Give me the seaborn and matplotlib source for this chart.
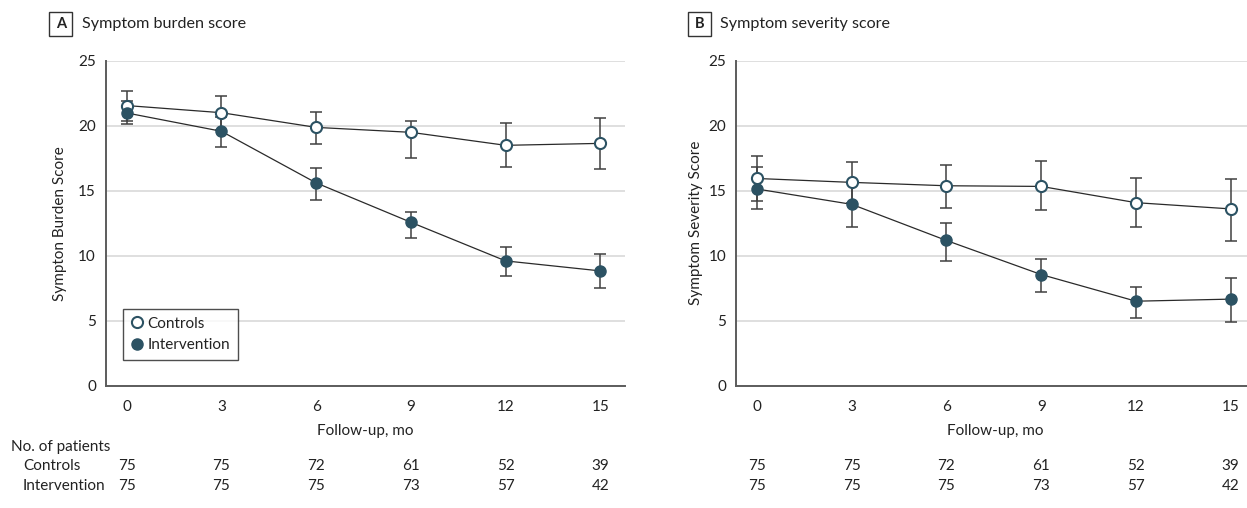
import matplotlib
matplotlib.use("Agg")
import matplotlib.pyplot as plt
import seaborn as sns
import numpy as np
from matplotlib.patches import Rectangle
from matplotlib.lines import Line2D
from matplotlib.transforms import blended_transform_factory

# ---------------- data ----------------
months = [0, 3, 6, 9, 12, 15]

burden_ctrl = [21.55, 21.0, 19.87, 19.49, 18.49, 18.64]
burden_ctrl_lo = [20.4, 19.7, 18.62, 17.5, 16.8, 16.67]
burden_ctrl_hi = [22.7, 22.3, 21.08, 20.4, 20.23, 20.57]
burden_int = [20.98, 19.57, 15.6, 12.57, 9.6, 8.83]
burden_int_lo = [20.13, 18.4, 14.28, 11.38, 8.44, 7.54]
burden_int_hi = [21.9, 20.7, 16.77, 13.36, 10.65, 10.1]

sev_ctrl = [15.94, 15.64, 15.38, 15.33, 14.08, 13.6]
sev_ctrl_lo = [14.24, 14.06, 13.65, 13.55, 12.19, 11.15]
sev_ctrl_hi = [17.68, 17.22, 16.96, 17.27, 15.97, 15.87]
sev_int = [15.13, 13.95, 11.17, 8.55, 6.5, 6.66]
sev_int_lo = [13.57, 12.19, 9.62, 7.22, 5.18, 4.9]
sev_int_hi = [16.79, 15.7, 12.53, 9.74, 7.63, 8.32]

n_ctrl = [75, 75, 72, 61, 52, 39]
n_int = [75, 75, 75, 73, 57, 42]

panel_letters = ["A", "B"]
panel_titles = ["Symptom burden score", "Symptom severity score"]
y_labels = ["Sympton Burden Score", "Symptom Severity Score"]
x_label = "Follow-up, mo"
group_names = ["Controls", "Intervention"]
y_ticks = [0, 5, 10, 15, 20, 25]

# ---------------- style ----------------
sns.set_style("white")
plt.rcParams["font.family"] = ["Lato", "DejaVu Sans"]

TEAL = "#2c5263"
LINE = "#2a2a2a"
ERR = "#404040"
SPINE = "#5c5c5c"
TXT = "#222222"
FS = 11

W, H = 1247, 508
fig = plt.figure(figsize=(W / 100, H / 100), dpi=100)

ax_left_px = [105.7, 736.0]
ax_w_px = 625.0 - 105.7
ax_top_px, ax_bot_px = 60.7, 385.7

def fx(px):
    return px / W

def fy(py):
    return 1 - py / H

datasets = [
    (burden_ctrl, burden_ctrl_lo, burden_ctrl_hi, burden_int, burden_int_lo, burden_int_hi),
    (sev_ctrl, sev_ctrl_lo, sev_ctrl_hi, sev_int, sev_int_lo, sev_int_hi),
]

box_px = [(49.3, 72.3), (688.0, 711.0)]
title_x_px = [81.7, 720.0]
ylabel_pad = [8, 4]

for i in range(2):
    ax = fig.add_axes([fx(ax_left_px[i]), fy(ax_bot_px), fx(ax_w_px), (ax_bot_px - ax_top_px) / H])
    c, clo, chi, it, ilo, ihi = [np.array(a) for a in datasets[i]]

    # error bars
    ax.errorbar(months, c, yerr=[c - clo, chi - c], fmt="none", ecolor=ERR,
                elinewidth=1.1, capsize=4.4, capthick=1.1, zorder=2)
    ax.errorbar(months, it, yerr=[it - ilo, ihi - it], fmt="none", ecolor=ERR,
                elinewidth=1.1, capsize=4.4, capthick=1.1, zorder=2)

    sns.lineplot(x=months, y=c, ax=ax, color=LINE, lw=0.9, marker="o",
                 markersize=8, markerfacecolor="white", markeredgecolor=TEAL,
                 markeredgewidth=1.5, errorbar=None, zorder=3)
    sns.lineplot(x=months, y=it, ax=ax, color=LINE, lw=0.9, marker="o",
                 markersize=8, markerfacecolor=TEAL, markeredgecolor=TEAL,
                 markeredgewidth=1.0, errorbar=None, zorder=4)

    ax.set_xlim(-0.665, 15.78)
    ax.set_ylim(0, 25)
    ax.set_xticks(months)
    ax.set_yticks(y_ticks)
    ax.yaxis.grid(True, color="#dcdcdc", lw=1.3, zorder=0)
    ax.xaxis.grid(False)
    ax.set_axisbelow(True)
    for s in ["top", "right"]:
        ax.spines[s].set_visible(False)
    for s in ["left", "bottom"]:
        ax.spines[s].set_color(SPINE)
        ax.spines[s].set_linewidth(1.4)
    ax.tick_params(axis="both", length=5, width=1, color=SPINE, labelsize=FS,
                   labelcolor=TXT, direction="out")
    ax.tick_params(axis="y", pad=2)
    ax.tick_params(axis="x", pad=5)
    ax.set_xlabel("")
    ax.set_ylabel(y_labels[i], fontsize=FS, color=TXT, labelpad=ylabel_pad[i])

    tr = blended_transform_factory(ax.transData, fig.transFigure)
    tra = blended_transform_factory(ax.transAxes, fig.transFigure)
    ax.text(0.5, fy(430.5), x_label, transform=tra, ha="center", va="center",
            fontsize=FS, color=TXT)
    for m, a, b in zip(months, n_ctrl, n_int):
        ax.text(m, fy(466.5), str(a), transform=tr, ha="center", va="center",
                fontsize=FS, color=TXT)
        ax.text(m, fy(486.5), str(b), transform=tr, ha="center", va="center",
                fontsize=FS, color=TXT)

    # panel letter box and title
    x0, x1 = box_px[i]
    fig.add_artist(Rectangle((fx(x0), fy(36.0)), fx(x1 - x0), 23.7 / H,
                             transform=fig.transFigure, fill=False, ec="#333333", lw=1.0))
    fig.text(fx((x0 + x1) / 2), fy(24.3), panel_letters[i], ha="center", va="center",
             fontsize=10.5, fontweight="bold", color=TXT)
    fig.text(fx(title_x_px[i]), fy(24.0), panel_titles[i], ha="left", va="center",
             fontsize=11.6, color=TXT)

    if i == 0:
        handles = [
            Line2D([], [], ls="none", marker="o", markersize=8, markerfacecolor="white",
                   markeredgecolor=TEAL, markeredgewidth=1.5),
            Line2D([], [], ls="none", marker="o", markersize=8, markerfacecolor=TEAL,
                   markeredgecolor=TEAL),
        ]
        leg = ax.legend(handles, group_names, loc="upper left",
                        bbox_to_anchor=(fx(123.3), fy(309.0)), bbox_transform=fig.transFigure,
                        frameon=True, fancybox=False, borderaxespad=0, fontsize=FS,
                        handlelength=0.8, handletextpad=0.3, borderpad=0.5,
                        labelspacing=0.5)
        leg.get_frame().set_edgecolor("#222222")
        leg.get_frame().set_linewidth(1.0)
        for t in leg.get_texts():
            t.set_color(TXT)

        fig.text(fx(11), fy(446.7), "No. of patients", ha="left", va="center",
                 fontsize=FS, color=TXT)
        fig.text(fx(23), fy(466.5), group_names[0], ha="left", va="center",
                 fontsize=FS, color=TXT)
        fig.text(fx(23), fy(486.5), group_names[1], ha="left", va="center",
                 fontsize=FS, color=TXT)

fig.savefig("out.png", dpi=100)
